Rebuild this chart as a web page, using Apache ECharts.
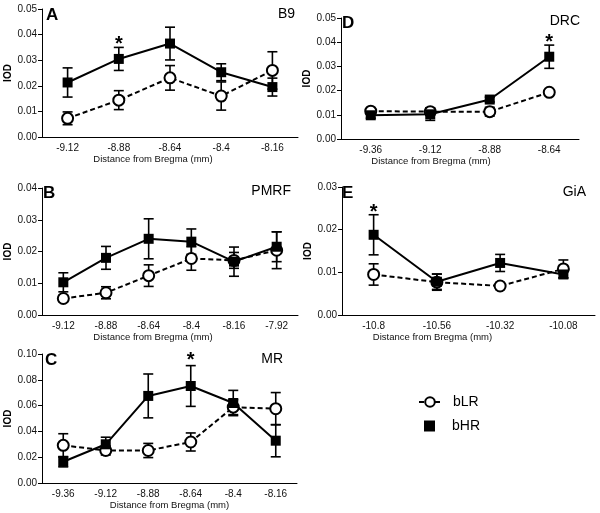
<!DOCTYPE html>
<html>
<head>
<meta charset="utf-8">
<script src="https://cdn.jsdelivr.net/npm/echarts@6/dist/echarts.min.js"></script>
<style>html,body{margin:0;padding:0;background:#fff}#c{width:600px;height:513px}</style>
</head>
<body>
<div id="c"></div>
<script>
// ---------- DATA ----------
const xTitle = 'Distance from Bregma (mm)';
const yTitle = 'IOD';
const legendNames = ['bLR', 'bHR'];

// Panel A - B9
const catsA = ['-9.12', '-8.88', '-8.64', '-8.4', '-8.16'];
const hrA = [0.0213, 0.0305, 0.0365, 0.0253, 0.0195];
const hrErrA = [0.0057, 0.0045, 0.0064, 0.0033, 0.0035];
const lrA = [0.0073, 0.0144, 0.0231, 0.0160, 0.0260];
const lrErrA = [0.0025, 0.0037, 0.0048, 0.0055, 0.0073];
const starA = [[1, 0.0360]];
const yTicksA = [0, 0.05, 0.01];

// Panel D - DRC
const catsD = ['-9.36', '-9.12', '-8.88', '-8.64'];
const hrD = [0.0098, 0.0102, 0.0163, 0.0340];
const hrErrD = [0.0012, 0.0025, 0.0010, 0.0048];
const lrD = [0.0115, 0.0113, 0.0113, 0.0193];
const lrErrD = [0.0012, 0.0015, 0.0018, 0.0007];
const starD = [[3, 0.0398]];
const yTicksD = [0, 0.05, 0.01];

// Panel B - PMRF
const catsB = ['-9.12', '-8.88', '-8.64', '-8.4', '-8.16', '-7.92'];
const hrB = [0.0103, 0.0180, 0.0240, 0.0231, 0.0168, 0.0215];
const hrErrB = [0.0030, 0.0036, 0.0063, 0.0040, 0.0046, 0.0047];
const lrB = [0.0052, 0.0070, 0.0124, 0.0178, 0.0172, 0.0204];
const lrErrB = [0.0010, 0.0019, 0.0034, 0.0037, 0.0025, 0.0058];
const starB = [];
const yTicksB = [0, 0.04, 0.01];

// Panel E - GiA
const catsE = ['-10.8', '-10.56', '-10.32', '-10.08'];
const hrE = [0.0188, 0.0078, 0.0122, 0.0095];
const hrErrE = [0.0047, 0.0018, 0.0020, 0.0008];
const lrE = [0.0095, 0.0077, 0.0068, 0.0108];
const lrErrE = [0.0025, 0.0019, 0.0008, 0.0021];
const starE = [[0, 0.0241]];
const yTicksE = [0, 0.03, 0.01];

// Panel C - MR
const catsC = ['-9.36', '-9.12', '-8.88', '-8.64', '-8.4', '-8.16'];
const hrC = [0.0165, 0.0300, 0.0675, 0.0752, 0.0620, 0.0328];
const hrErrC = [0.0040, 0.0055, 0.0170, 0.0158, 0.0098, 0.0125];
const lrC = [0.0292, 0.0252, 0.0252, 0.0318, 0.0588, 0.0576];
const lrErrC = [0.0090, 0.0035, 0.0055, 0.0070, 0.0058, 0.0125];
const starC = [[3, 0.0948]];
const yTicksC = [0, 0.10, 0.02];

// ---------- LAYOUT / STYLE ----------
const FONT = 'Liberation Sans, Arial, sans-serif';
const INK = '#000';
const panels = [
  {letter: 'A', region: 'B9', cats: catsA, hr: hrA, hrErr: hrErrA, lr: lrA, lrErr: lrErrA, star: starA, yt: yTicksA,
   grid: {left: 42, top: 9, width: 256, height: 128}, letterPos: [46, 7], regionPos: [305, 7], namePad: 34},
  {letter: 'D', region: 'DRC', cats: catsD, hr: hrD, hrErr: hrErrD, lr: lrD, lrErr: lrErrD, star: starD, yt: yTicksD,
   grid: {left: 341, top: 18, width: 238, height: 121}, letterPos: [342, 15], regionPos: [20, 14], namePad: 58},
  {letter: 'B', region: 'PMRF', cats: catsB, hr: hrB, hrErr: hrErrB, lr: lrB, lrErr: lrErrB, star: starB, yt: yTicksB,
   grid: {left: 42, top: 188, width: 256, height: 127}, letterPos: [43, 185], regionPos: [309, 184], namePad: 34},
  {letter: 'E', region: 'GiA', cats: catsE, hr: hrE, hrErr: hrErrE, lr: lrE, lrErr: lrErrE, star: starE, yt: yTicksE,
   grid: {left: 342, top: 187, width: 253, height: 128}, letterPos: [342, 185], regionPos: [14, 185], namePad: 72},
  {letter: 'C', region: 'MR', cats: catsC, hr: hrC, hrErr: hrErrC, lr: lrC, lrErr: lrErrC, star: starC, yt: yTicksC,
   grid: {left: 42, top: 354, width: 255, height: 129}, letterPos: [45, 352], regionPos: [317, 352], namePad: 0}
];

const grids = [], xAxes = [], yAxes = [], series = [], titles = [];

function errBarSeries(gi, means, errs, z) {
  return {
    type: 'custom', xAxisIndex: gi, yAxisIndex: gi, z: z, silent: true,
    data: means.map((m, i) => [i, m - errs[i], m + errs[i]]),
    renderItem: function (params, api) {
      const x = api.value(0);
      const lo = api.coord([x, api.value(1)]);
      const hi = api.coord([x, api.value(2)]);
      const w = 5;
      const st = {stroke: INK, lineWidth: 1.6};
      return {type: 'group', children: [
        {type: 'line', shape: {x1: lo[0], y1: lo[1], x2: hi[0], y2: hi[1]}, style: st},
        {type: 'line', shape: {x1: lo[0] - w, y1: lo[1], x2: lo[0] + w, y2: lo[1]}, style: st},
        {type: 'line', shape: {x1: hi[0] - w, y1: hi[1], x2: hi[0] + w, y2: hi[1]}, style: st}
      ]};
    }
  };
}

panels.forEach((p, gi) => {
  grids.push(Object.assign({containLabel: false}, p.grid));
  xAxes.push({
    gridIndex: gi, type: 'category', data: p.cats, boundaryGap: true,
    axisLine: {lineStyle: {color: INK, width: 1}},
    axisTick: {alignWithLabel: true, length: 4, lineStyle: {color: INK}},
    axisLabel: {color: '#111', fontSize: 10, fontFamily: FONT, margin: 6},
    name: xTitle, nameLocation: 'middle', nameGap: 15,
    nameTextStyle: {color: '#111', fontSize: 9.5, fontFamily: FONT, padding: [0, p.namePad, 0, 0]}
  });
  yAxes.push({
    gridIndex: gi, type: 'value', min: p.yt[0], max: p.yt[1], interval: p.yt[2],
    axisLine: {show: true, lineStyle: {color: INK, width: 1}},
    axisTick: {show: true, length: 4, lineStyle: {color: INK}},
    splitLine: {show: false},
    axisLabel: {color: '#111', fontSize: 10, fontFamily: FONT, margin: 5, formatter: v => v.toFixed(2)},
    name: yTitle, nameLocation: 'middle', nameGap: 27, nameRotate: 90,
    nameTextStyle: {color: INK, fontSize: 10, fontWeight: 'bold', fontFamily: FONT}
  });
  series.push(errBarSeries(gi, p.lr, p.lrErr, 2));
  series.push(errBarSeries(gi, p.hr, p.hrErr, 2));
  series.push({
    name: legendNames[0], type: 'line', xAxisIndex: gi, yAxisIndex: gi, data: p.lr, z: 3,
    symbol: 'circle', symbolSize: 11, showAllSymbol: true,
    lineStyle: {color: INK, width: 2, type: [5, 3]},
    itemStyle: {color: '#fff', borderColor: INK, borderWidth: 2}
  });
  series.push({
    name: legendNames[1], type: 'line', xAxisIndex: gi, yAxisIndex: gi, data: p.hr, z: 4,
    symbol: 'rect', symbolSize: 10, showAllSymbol: true,
    lineStyle: {color: INK, width: 2},
    itemStyle: {color: INK, borderColor: INK, borderWidth: 0}
  });
  if (p.star.length) {
    series.push({
      type: 'custom', xAxisIndex: gi, yAxisIndex: gi, z: 5, silent: true, data: p.star,
      renderItem: function (params, api) {
        const pt = api.coord([api.value(0), api.value(1)]);
        return {type: 'text', x: pt[0], y: pt[1],
          style: {text: '*', fill: INK, font: 'bold 20px ' + FONT, align: 'center', verticalAlign: 'middle'}};
      }
    });
  }
  titles.push({text: p.letter, left: p.letterPos[0], top: p.letterPos[1], padding: 0,
    textStyle: {fontSize: 17, fontWeight: 'bold', color: INK, fontFamily: FONT}});
  titles.push({text: p.region, right: p.regionPos[0], top: p.regionPos[1], padding: 0,
    textStyle: {fontSize: 14, fontWeight: 'normal', color: INK, fontFamily: FONT}});
});

const chart = echarts.init(document.getElementById('c'), null, {renderer: 'canvas'});
chart.setOption({
  animation: false,
  backgroundColor: '#fff',
  title: titles,
  grid: grids,
  xAxis: xAxes,
  yAxis: yAxes,
  legend: [
    {data: [legendNames[0]], orient: 'vertical', left: 418, top: 395, itemWidth: 22, itemHeight: 12,
     selectedMode: false, padding: 0,
     textStyle: {fontSize: 14, color: INK, fontFamily: FONT, padding: [0, 0, 0, 7]}},
    {data: [{name: legendNames[1], icon: 'rect'}], orient: 'vertical', left: 424, top: 419, itemWidth: 11, itemHeight: 11,
     selectedMode: false, padding: 0,
     textStyle: {fontSize: 14, color: INK, fontFamily: FONT, padding: [0, 0, 0, 12]}}
  ],
  series: series
});
</script>
</body>
</html>
